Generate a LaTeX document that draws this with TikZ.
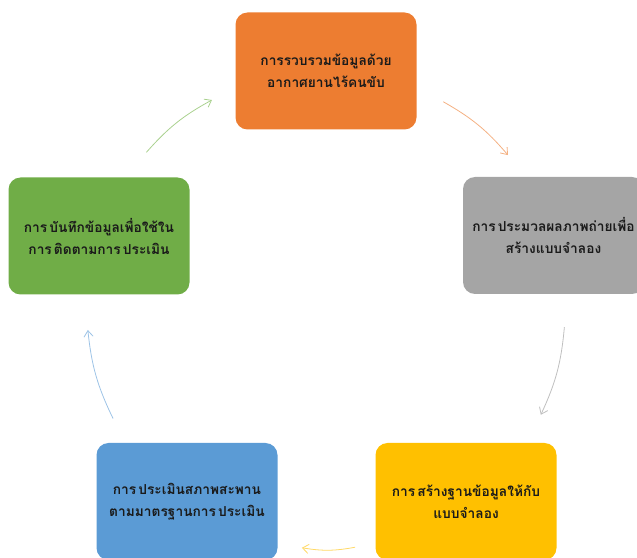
\documentclass[tikz,border=0pt]{standalone}
\usepackage{fontspec}
\newfontfamily\thaifont[Script=Thai, WordSpace=0.45]{Loma}
\usepackage{tikz}
\usetikzlibrary{arrows.meta,calc}
\definecolor{cycleOrange}{HTML}{ED7D31}
\definecolor{cycleGray}{HTML}{A5A5A5}
\definecolor{cycleYellow}{HTML}{FFC000}
\definecolor{cycleBlue}{HTML}{5B9BD5}
\definecolor{cycleGreen}{HTML}{70AD47}
\definecolor{arrowOrange}{HTML}{F4B183}
\definecolor{arrowGray}{HTML}{BFBFBF}
\definecolor{arrowYellow}{HTML}{FFD966}
\definecolor{arrowBlue}{HTML}{9DC3E6}
\definecolor{arrowGreen}{HTML}{A9D18E}
\definecolor{cycleText}{HTML}{1A1A1A}
\tikzset{
  stepbox/.style={rounded corners=9pt, align=center, inner sep=4pt,
    minimum width=135.75pt, minimum height=87.75pt, text=cycleText,
    font=\thaifont\bfseries\fontsize{10.3}{16.5}\selectfont},
  cyclearrow/.style={-{Straight Barb[length=1.6mm,width=2.4mm]}, line width=0.6pt, bend left=10}
}

\begin{document}
\begin{tikzpicture}[x=0.75pt, y=0.75pt]
    \clip (0,0) rectangle (637,558);
    \coordinate (hub) at (326,248);

    \node[stepbox, fill=cycleOrange] (collect) at ($(hub)+(90:239)$)
      {การรวบรวมข้อมูลด้วย\\อากาศยานไร้คนขับ};
    \node[stepbox, fill=cycleGray] (process) at (553.5,322.5)
      {การ ประมวลผลภาพถ่ายเพื่อ\\สร้างแบบจำลอง};
    \node[stepbox, fill=cycleYellow] (database) at (466,56.5)
      {การ สร้างฐานข้อมูลให้กับ\\แบบจำลอง};
    \node[stepbox, fill=cycleBlue] (assess) at (187,56.5)
      {การ ประเมินสภาพสะพาน\\ตามมาตรฐานการ ประเมิน};
    \node[stepbox, fill=cycleGreen] (record) at (99,322)
      {การ บันทึกข้อมูลเพื่อใช้ใน\\การ ติดตามการ ประเมิน};

    % arrow ends on the cycle ring
    \coordinate (collectOut) at ($(hub)+(60.6:239)$);
    \coordinate (processIn) at ($(hub)+(40.4:239)$);
    \coordinate (processOut) at ($(hub)+(-4.1:239)$);
    \coordinate (databaseIn) at ($(hub)+(-26:239)$);
    \coordinate (databaseOut) at ($(hub)+(-83:239)$);
    \coordinate (assessIn) at ($(hub)+(-95.8:239)$);
    \coordinate (assessOut) at ($(hub)+(207:239)$);
    \coordinate (recordIn) at ($(hub)+(184.8:239)$);
    \coordinate (recordOut) at ($(hub)+(138.7:239)$);
    \coordinate (collectIn) at ($(hub)+(118.5:239)$);

    \draw[cyclearrow, draw=arrowOrange] (collectOut) to (processIn);
    \draw[cyclearrow, draw=arrowGray] (processOut) to (databaseIn);
    \draw[cyclearrow, draw=arrowYellow] (databaseOut) to (assessIn);
    \draw[cyclearrow, draw=arrowBlue] (assessOut) to (recordIn);
    \draw[cyclearrow, draw=arrowGreen] (recordOut) to (collectIn);
\end{tikzpicture}
\end{document}
